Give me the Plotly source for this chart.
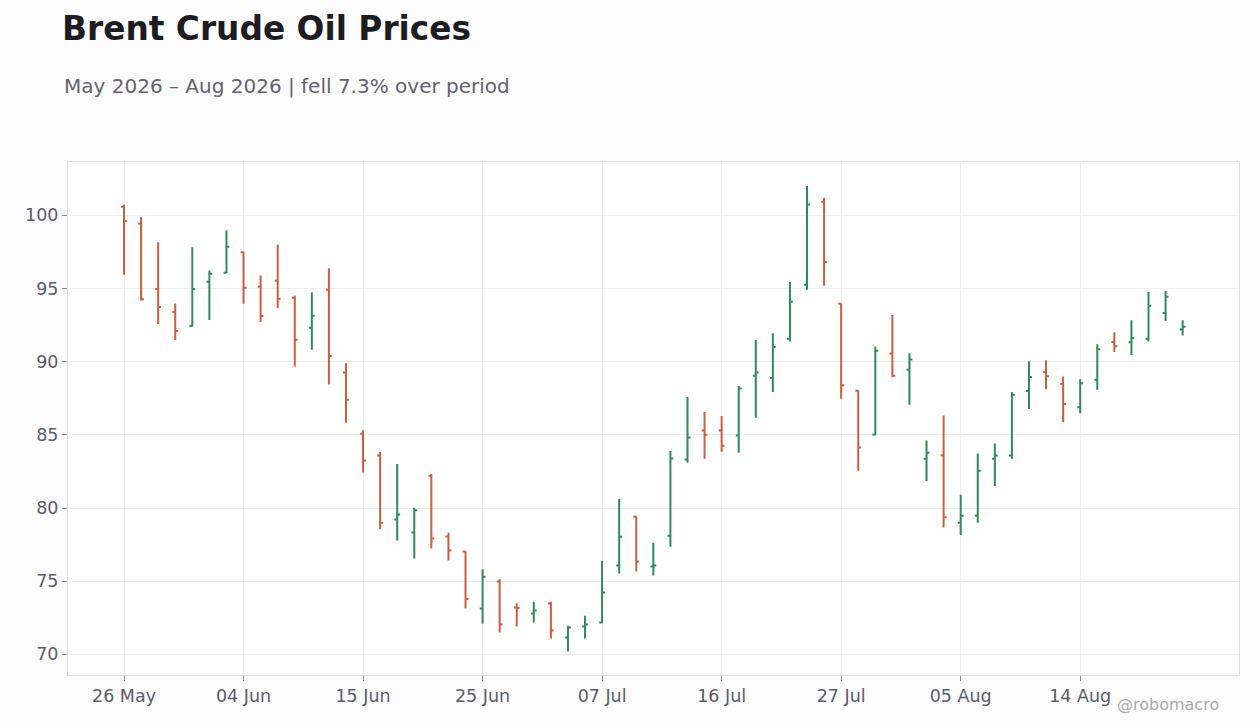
import plotly.graph_objects as go

# Trading days (weekends and US market holidays skipped)
DATES = [
    "2026-05-26", "2026-05-27", "2026-05-28", "2026-05-29",
    "2026-06-01", "2026-06-02", "2026-06-03", "2026-06-04", "2026-06-05",
    "2026-06-08", "2026-06-09", "2026-06-10", "2026-06-11", "2026-06-12",
    "2026-06-15", "2026-06-16", "2026-06-17", "2026-06-18",
    "2026-06-22", "2026-06-23", "2026-06-24", "2026-06-25", "2026-06-26",
    "2026-06-29", "2026-06-30", "2026-07-01", "2026-07-02",
    "2026-07-06", "2026-07-07", "2026-07-08", "2026-07-09", "2026-07-10",
    "2026-07-13", "2026-07-14", "2026-07-15", "2026-07-16", "2026-07-17",
    "2026-07-20", "2026-07-21", "2026-07-22", "2026-07-23", "2026-07-24",
    "2026-07-27", "2026-07-28", "2026-07-29", "2026-07-30", "2026-07-31",
    "2026-08-03", "2026-08-04", "2026-08-05", "2026-08-06", "2026-08-07",
    "2026-08-10", "2026-08-11", "2026-08-12", "2026-08-13", "2026-08-14",
    "2026-08-17", "2026-08-18", "2026-08-19", "2026-08-20", "2026-08-21",
    "2026-08-24",
]

OPEN = [
    100.59, 99.43, 94.97, 93.40, 92.44, 95.45, 96.07, 97.47, 95.11, 95.52,
    94.36, 92.32, 94.92, 89.25, 85.08, 83.58, 79.22, 78.33, 82.21, 78.06,
    77.02, 73.13, 74.97, 73.20, 72.79, 73.47, 71.15, 71.90, 72.17, 76.07,
    79.41, 76.00, 78.11, 83.31, 85.29, 85.29, 84.95, 89.04, 88.88, 91.57,
    95.26, 100.93, 93.95, 88.01, 85.02, 90.55, 89.45, 83.37, 83.60, 78.99,
    79.47, 83.37, 83.58, 88.00, 89.29, 88.47, 86.89, 88.77, 91.34, 91.32,
    91.57, 93.33, 92.19,
]
HIGH = [
    100.73, 99.86, 98.15, 93.97, 97.81, 96.23, 98.97, 97.53, 95.89, 98.01,
    94.52, 94.74, 96.38, 89.89, 85.31, 83.83, 83.00, 80.02, 82.33, 78.31,
    77.05, 75.82, 75.14, 73.50, 73.59, 73.59, 71.95, 72.63, 76.39, 80.62,
    79.44, 77.62, 83.90, 87.59, 86.56, 86.29, 88.34, 91.48, 91.94, 95.44,
    102.00, 101.18, 93.97, 88.04, 91.03, 93.19, 90.57, 84.62, 86.32, 80.91,
    83.72, 84.41, 87.93, 90.02, 90.09, 88.99, 88.79, 91.19, 92.00, 92.83,
    94.75, 94.82, 92.83,
]
LOW = [
    95.93, 94.18, 92.58, 91.48, 92.40, 92.85, 96.05, 93.95, 92.71, 93.67,
    89.66, 90.82, 88.43, 85.83, 82.42, 78.55, 77.78, 76.55, 77.23, 76.41,
    73.13, 72.10, 71.49, 71.90, 72.17, 71.08, 70.19, 71.08, 72.13, 75.52,
    75.66, 75.38, 77.36, 83.10, 83.37, 83.85, 83.78, 86.17, 87.92, 91.37,
    94.92, 95.18, 87.47, 82.55, 84.95, 88.93, 87.06, 81.84, 78.67, 78.15,
    78.99, 81.50, 83.37, 86.76, 88.12, 85.86, 86.48, 88.08, 90.66, 90.45,
    91.37, 92.78, 91.78,
]
CLOSE = [
    99.61, 94.27, 93.74, 92.10, 94.97, 96.00, 97.85, 95.04, 93.12, 94.29,
    91.50, 93.14, 90.39, 87.40, 83.24, 79.00, 79.56, 79.84, 77.92, 77.10,
    73.79, 75.31, 72.04, 73.16, 72.99, 71.63, 71.83, 72.04, 74.22, 78.03,
    76.34, 76.07, 83.38, 84.81, 85.01, 84.26, 88.16, 89.25, 91.00, 94.09,
    100.73, 96.81, 88.38, 84.13, 90.74, 89.04, 90.14, 83.78, 79.36, 79.47,
    82.55, 83.58, 87.74, 88.95, 89.01, 87.10, 88.53, 90.85, 91.05, 91.62,
    93.81, 94.43, 92.39,
]

TICK_DATES = ["2026-05-26", "2026-06-04", "2026-06-15", "2026-06-25", "2026-07-07",
              "2026-07-16", "2026-07-27", "2026-08-05", "2026-08-14"]
TICK_LABELS = ["26 May", "04 Jun", "15 Jun", "25 Jun", "07 Jul",
               "16 Jul", "27 Jul", "05 Aug", "14 Aug"]

UP_COLOR = "#2e8b57"
DOWN_COLOR = "#c8603e"
FONT = "DejaVu Sans"
TEXT_GRAY = "#5a5d68"

fig = go.Figure()

fig.add_trace(go.Ohlc(
    x=DATES,
    open=OPEN, high=HIGH, low=LOW, close=CLOSE,
    increasing=dict(line=dict(color=UP_COLOR, width=2)),
    decreasing=dict(line=dict(color=DOWN_COLOR, width=2)),
    tickwidth=0.17,
    hoverinfo="skip",
    showlegend=False,
))

fig.update_layout(
    width=1260,
    height=728,
    paper_bgcolor="#fcfcfd",
    plot_bgcolor="white",
    margin=dict(l=68, r=21, t=162, b=53),
    font=dict(family=FONT, color=TEXT_GRAY, size=18),
    title=dict(
        text="<b>Brent Crude Oil Prices</b>",
        font=dict(family=FONT, size=32.8, color="#1c1c22"),
        x=62 / 1260, xanchor="left",
        yref="container", y=1 - 29 / 728, yanchor="middle",
    ),
    xaxis=dict(
        type="category",
        range=[-3.28, 65.3],
        tickvals=TICK_DATES,
        ticktext=TICK_LABELS,
        ticks="outside", ticklen=5, tickcolor="#8a8d96",
        showgrid=True, gridcolor="#eeeeee",
        showline=True, linecolor="#dedfe3", mirror=True,
        rangeslider=dict(visible=False),
        tickfont=dict(size=17.5, color=TEXT_GRAY),
    ),
    yaxis=dict(
        range=[68.59, 103.64],
        dtick=5,
        ticks="outside", ticklen=5, tickcolor="#8a8d96",
        showgrid=True, gridcolor="#eeeeee",
        showline=True, linecolor="#dedfe3", mirror=True,
        zeroline=False,
        tickfont=dict(size=17.5, color=TEXT_GRAY),
    ),
    annotations=[
        dict(
            text="May 2026 – Aug 2026 | fell 7.3% over period",
            xref="paper", yref="paper",
            x=(62 - 68) / 1171, y=(675 - 86) / 513,
            xanchor="left", yanchor="middle", showarrow=False,
            font=dict(family=FONT, size=20, color="#62636e"),
        ),
        dict(
            text="@robomacro",
            xref="paper", yref="paper",
            x=(1221 - 68) / 1171, y=(675 - 705) / 513,
            xanchor="right", yanchor="middle", showarrow=False,
            font=dict(family=FONT, size=16, color="#aaaaaa"),
        ),
    ],
)

# drop the browser's default body margin so the figure sits at the page origin
fig.write_html("out.html", config={"displayModeBar": False},
               post_script="document.body.style.margin='0';")
